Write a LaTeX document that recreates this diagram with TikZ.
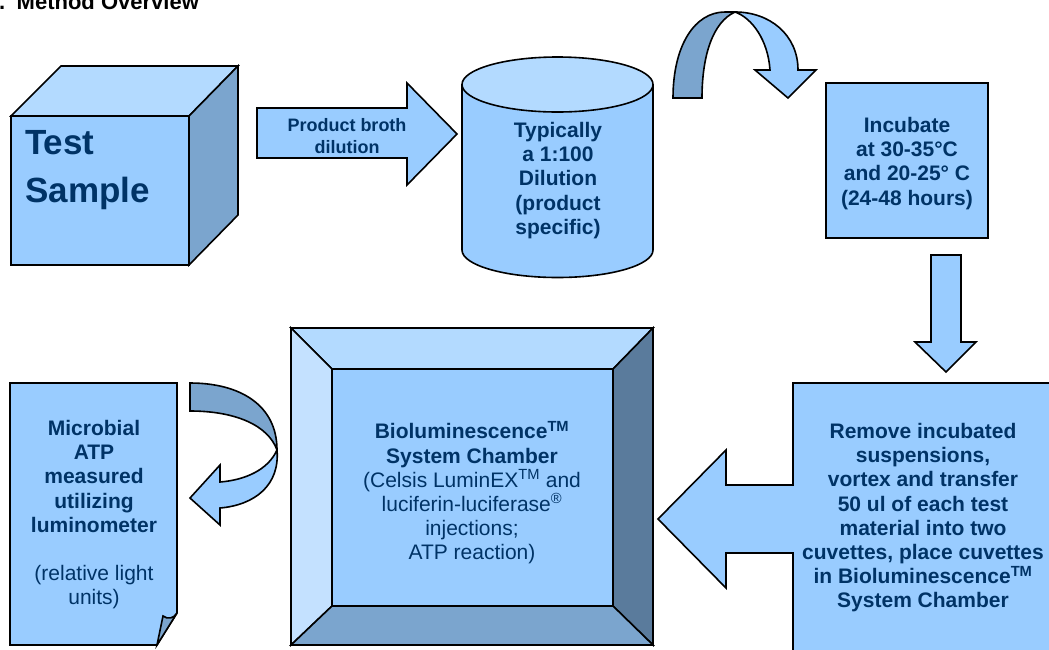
\documentclass[tikz,border=0pt]{standalone}
\usepackage{fontspec}
\setmainfont{Liberation Sans}
\definecolor{lb}{HTML}{99CCFF}
\definecolor{lt}{HTML}{B3DAFF}
\definecolor{dk}{HTML}{7BA5CE}
\definecolor{vdk}{HTML}{5A7B9C}
\definecolor{ll}{HTML}{C4E1FF}
\definecolor{tx}{HTML}{003366}
\tikzset{
  shp/.style={draw=black, line width=1.6pt},
  txt/.style={text=tx, font=\fontsize{21}{24.2}\selectfont\bfseries, align=center, inner sep=0pt, anchor=north},
}
\begin{document}
\begin{tikzpicture}[x=1pt,y=-1pt]
\useasboundingbox (0,0) rectangle (1049,649);
% title
\node[anchor=base west, inner sep=0pt, font=\fontsize{22}{26}\selectfont\bfseries] (title) at (-1,9) {.\hspace{11.4pt}Method Overview};
% cube
\filldraw[shp, fill=lt] (11,116) -- (61,66) -- (238,66) -- (189,116) -- cycle;
\filldraw[shp, fill=dk] (189,116) -- (238,66) -- (238,215) -- (189,265) -- cycle;
\filldraw[shp, fill=lb] (11,116) rectangle (189,265);
\node[txt, anchor=north west, align=left, font=\fontsize{35}{48}\selectfont\bfseries] (test) at (25,130) {Test\\Sample};
% product arrow
\filldraw[shp, fill=lb] (257,108) -- (407,108) -- (407,83) -- (457,134) -- (407,185) -- (407,158) -- (257,158) -- cycle;
\node[txt, font=\fontsize{18}{22}\selectfont\bfseries] (prod) at (347,118) {Product broth\\dilution};
% cylinder
\filldraw[shp, fill=lb] (462,84) -- (462,250) .. controls (462,265.2) and (504.8,277.5) .. (557.5,277.5) .. controls (610.2,277.5) and (653,265.2) .. (653,250) -- (653,84);
\filldraw[shp, fill=lt] (557.5,84.5) ellipse [x radius=95.5pt, y radius=27.5pt];
\node[txt] (dil) at (558,122) {Typically\\a 1:100\\Dilution\\(product\\specific)};
% top ribbon arrow
\filldraw[shp, fill=dk] (673,98) .. controls (673,45) and (695,12) .. (725,12) -- (735,12) .. controls (713,22) and (702,55) .. (702,98) -- cycle;
\filldraw[shp, fill=lb] (735,12) .. controls (770,12) and (798,35) .. (798,70) -- (816,70) -- (788,98) -- (755,70) -- (770,70) .. controls (768,40) and (752,18) .. (735,12) -- cycle;
% incubate
\filldraw[shp, fill=lb] (826,83) rectangle (988,238);
\node[txt] (inc) at (907,117) {Incubate\\at 30-35°C\\and 20-25° C\\(24-48 hours)};
% down arrow
\filldraw[shp, fill=lb] (931,255) -- (961,255) -- (961,342) -- (976,342) -- (946,372) -- (915,342) -- (931,342) -- cycle;
% remove box with arrow
\filldraw[shp, fill=lb] (793,383) -- (1060,383) -- (1060,660) -- (793,660) -- (793,553) -- (726,553) -- (726,588) -- (658,519) -- (726,450) -- (726,485) -- (793,485) -- cycle;
\node[txt] (rem) at (923,423) {Remove incubated\\suspensions,\\vortex and transfer\\50 ul of each test\\material into two\\cuvettes, place cuvettes\\in Bioluminescence\textsuperscript{TM}\\System Chamber};
% chamber
\filldraw[shp, fill=lt] (291,328) -- (653,328) -- (613,369) -- (332,369) -- cycle;
\filldraw[shp, fill=ll] (291,328) -- (332,369) -- (332,606) -- (291,645) -- cycle;
\filldraw[shp, fill=vdk] (653,328) -- (653,645) -- (613,606) -- (613,369) -- cycle;
\filldraw[shp, fill=dk] (291,645) -- (653,645) -- (613,606) -- (332,606) -- cycle;
\filldraw[shp, fill=lb] (332,369) rectangle (613,606);
\node[txt] (bio) at (472,421) {Bioluminescence\textsuperscript{TM}\\System Chamber\\\mdseries (Celsis LuminEX\textsuperscript{TM} and\\\mdseries luciferin-luciferase\textsuperscript{®}\\\mdseries injections;\\\mdseries ATP reaction)};
% document
\filldraw[shp, fill=lb] (10,383) -- (177,383) -- (177,613) -- (157,645) -- (10,645) -- cycle;
\filldraw[shp, fill=dk] (157,645) -- (163,616) .. controls (168,620) and (174,618) .. (177,613) -- cycle;
\node[txt] (atp) at (94,420) {Microbial\\ATP\\measured\\utilizing\\luminometer\\[24.2pt]\mdseries (relative light\\\mdseries units)};
% bottom-left ribbon arrow
\filldraw[shp, fill=dk] (190,383) .. controls (240,383) and (277,405) .. (277,450) .. controls (268,425) and (235,411) .. (190,411) -- cycle;
\filldraw[shp, fill=lb] (277,450) .. controls (280,485) and (255,505) .. (220,508) -- (220,525) -- (190,498) -- (220,465) -- (220,482) .. controls (245,480) and (268,470) .. (277,450) -- cycle;
\end{tikzpicture}
\end{document}
